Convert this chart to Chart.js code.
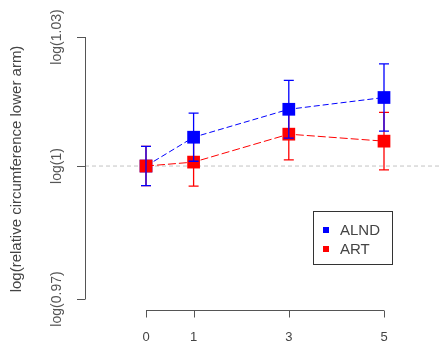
<!DOCTYPE html>
<html>
<head>
<meta charset="utf-8">
<script src="https://cdn.jsdelivr.net/npm/chart.js@4.4.1/dist/chart.umd.min.js"></script>
<style>
  html, body { margin: 0; padding: 0; background: #fff; overflow: hidden; }
  #contenedor { width: 442px; height: 348px; }
</style>
</head>
<body>
<div id="contenedor"><canvas id="graficaBrazo"></canvas></div>
<script>
// ════════════════════════════════════════
//  Datos
// ════════════════════════════════════════

const semanas = [0, 1, 3, 5];

const alndMedia = [0, 0.0066, 0.0130, 0.0157];
const alndError = [0.0045, 0.0055, 0.0066, 0.0077];

const artMedia = [0, 0.0009, 0.0073, 0.0057];
const artError = [0.0045, 0.0055, 0.0059, 0.0066];

const ticksX = [0, 1, 3, 5];
const ticksY = [Math.log(0.97), 0, Math.log(1.03)];
const etiquetasY = ["log(0.97)", "log(1)", "log(1.03)"];

const series = ["ALND", "ART"];
const tituloY = "log(relative circumference lower arm)";

// Colores
const colorAzul = "#0000ff";
const colorRojo = "#ff0000";
const colorEje = "#555555";
const colorTexto = "#444444";
const fuente = "'Liberation Sans', Arial, sans-serif";


// ═══ Barras de error ═══
function dibujarBarras(chart, indice, errores) {
  const ctx = chart.ctx;
  const meta = chart.getDatasetMeta(indice);
  const escalaY = chart.scales.y;
  const medias = chart.data.datasets[indice].data;
  ctx.save();
  ctx.strokeStyle = chart.data.datasets[indice].borderColor;
  ctx.lineWidth = 1.3;
  meta.data.forEach((punto, i) => {
    const x = punto.x;
    const arriba = escalaY.getPixelForValue(medias[i].y + errores[i]);
    const abajo = escalaY.getPixelForValue(medias[i].y - errores[i]);
    ctx.beginPath();
    ctx.moveTo(x, arriba);
    ctx.lineTo(x, abajo);
    ctx.moveTo(x - 5, arriba);
    ctx.lineTo(x + 5, arriba);
    ctx.moveTo(x - 5, abajo);
    ctx.lineTo(x + 5, abajo);
    ctx.stroke();
  });
  ctx.restore();
}

const pluginEstiloR = {
  id: "estiloR",
  beforeDatasetsDraw(chart) {
    const ctx = chart.ctx;
    const area = chart.chartArea;
    const x = chart.scales.x;
    const y = chart.scales.y;

    // línea de referencia en log(1)
    ctx.save();
    ctx.strokeStyle = "#c4c4c4";
    ctx.lineWidth = 1;
    ctx.setLineDash([4, 3]);
    ctx.beginPath();
    ctx.moveTo(area.left, y.getPixelForValue(0));
    ctx.lineTo(area.right, y.getPixelForValue(0));
    ctx.stroke();
    ctx.setLineDash([]);

    // eje Y tipo corchete
    ctx.strokeStyle = colorEje;
    ctx.beginPath();
    const yIni = y.getPixelForValue(ticksY[0]);
    const yFin = y.getPixelForValue(ticksY[ticksY.length - 1]);
    ctx.moveTo(area.left + 0.5, yIni);
    ctx.lineTo(area.left + 0.5, yFin);
    ticksY.forEach(v => {
      const py = Math.round(y.getPixelForValue(v)) + 0.5;
      ctx.moveTo(area.left - 8, py);
      ctx.lineTo(area.left + 0.5, py);
    });
    ctx.stroke();

    // eje X tipo corchete
    const base = area.bottom + 11.5;
    ctx.beginPath();
    ctx.moveTo(x.getPixelForValue(ticksX[0]), base);
    ctx.lineTo(x.getPixelForValue(ticksX[ticksX.length - 1]), base);
    ticksX.forEach(v => {
      const px = Math.round(x.getPixelForValue(v)) + 0.5;
      ctx.moveTo(px, base);
      ctx.lineTo(px, base + 7);
    });
    ctx.stroke();

    // título del eje Y
    ctx.translate(17, (area.top + area.bottom) / 2 + 1);
    ctx.rotate(-Math.PI / 2);
    ctx.font = "15px " + fuente;
    ctx.fillStyle = colorTexto;
    ctx.textAlign = "center";
    ctx.textBaseline = "middle";
    ctx.fillText(tituloY, 0, 0);
    ctx.restore();

    dibujarBarras(chart, 1, artError);
  },
  afterDatasetsDraw(chart) {
    dibujarBarras(chart, 0, alndError);

    // leyenda dentro del área
    const ctx = chart.ctx;
    const area = chart.chartArea;
    const izq = area.right - 129;
    const arr = area.top + 174;
    ctx.save();
    ctx.strokeStyle = "#333";
    ctx.lineWidth = 1;
    ctx.strokeRect(izq + 0.5, arr + 0.5, 79, 53);
    ctx.font = "15px " + fuente;
    ctx.textBaseline = "middle";
    chart.data.datasets.forEach((ds, i) => {
      const cy = arr + 19 + i * 19;
      ctx.fillStyle = ds.borderColor;
      ctx.fillRect(izq + 10, cy - 3, 6, 6);
      ctx.fillStyle = colorTexto;
      ctx.fillText(ds.label, izq + 27, cy + 1);
    });
    ctx.restore();
  }
};


// ════════════════════════════════════════
//  Gráfica
// ════════════════════════════════════════

function inicializarGrafica() {
  if (typeof Chart === "undefined") {
    setTimeout(inicializarGrafica, 100);
    return;
  }

  const ctxBrazo = document.getElementById("graficaBrazo");

  new Chart(ctxBrazo, {
    type: "line",
    data: {
      datasets: [
        {
          label: series[0],
          data: semanas.map((s, i) => ({ x: s, y: alndMedia[i] })),
          borderColor: colorAzul,
          backgroundColor: colorAzul,
          borderWidth: 1,
          borderDash: [6, 3],
          pointStyle: "rect",
          pointRadius: 9,
          pointBorderWidth: 0,
          order: 2
        },
        {
          label: series[1],
          data: semanas.map((s, i) => ({ x: s, y: artMedia[i] })),
          borderColor: colorRojo,
          backgroundColor: colorRojo,
          borderWidth: 1,
          borderDash: [8, 3],
          pointStyle: "rect",
          pointRadius: 9,
          pointBorderWidth: 0,
          order: 1
        }
      ]
    },
    options: {
      responsive: true,
      maintainAspectRatio: false,
      animation: false,
      layout: {
        autoPadding: false,
        padding: { top: 37, right: 0, bottom: 0, left: 0 }
      },
      plugins: {
        legend: { display: false },
        tooltip: { enabled: false }
      },
      scales: {
        x: {
          type: "linear",
          min: -1.2815,
          max: 6.2185,
          afterBuildTicks: escala => { escala.ticks = ticksX.map(v => ({ value: v })); },
          afterFit: escala => { escala.height = 49; },
          grid: { display: false, drawTicks: true, tickLength: 31 },
          border: { display: false },
          ticks: {
            padding: 0,
            color: colorTexto,
            font: { size: 13, family: fuente }
          }
        },
        y: {
          type: "linear",
          min: ticksY[0],
          max: ticksY[ticksY.length - 1],
          afterBuildTicks: escala => { escala.ticks = ticksY.map(v => ({ value: v })); },
          afterFit: escala => { escala.width = 85; },
          grid: { display: false, drawTicks: false },
          border: { display: false },
          ticks: {
            minRotation: 90,
            maxRotation: 90,
            crossAlign: "center",
            padding: 0,
            color: "#555",
            font: { size: 14, family: fuente },
            callback: (valor, indice) => etiquetasY[indice]
          }
        }
      }
    },
    plugins: [pluginEstiloR]
  });
}

document.addEventListener("DOMContentLoaded", inicializarGrafica);
</script>
</body>
</html>
